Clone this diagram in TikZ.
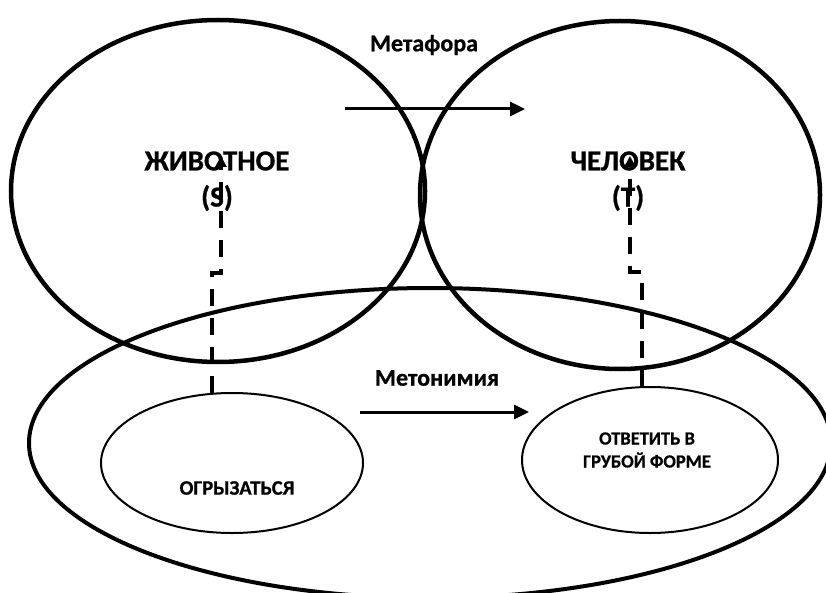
\documentclass[tikz,border=0pt]{standalone}
\usepackage{fontspec}
\setmainfont{Carlito}[BoldFont={Carlito Bold}, BoldFeatures={FakeBold=0.8}]
\usetikzlibrary{arrows.meta,shapes.geometric}
\begin{document}
\begin{tikzpicture}[x=1pt,y=-1pt,
  bigring/.style={draw, ellipse, line width=4.5pt, inner sep=0pt, outer sep=0pt},
  outerring/.style={draw, ellipse, line width=4pt, inner sep=0pt, outer sep=0pt},
  smallring/.style={draw, ellipse, line width=2pt, inner sep=0pt, outer sep=0pt},
  biglabel/.style={font=\bfseries\fontsize{29}{33}\selectfont, inner sep=0pt},
  arrowlabel/.style={font=\bfseries\fontsize{24}{28}\selectfont, inner sep=0pt},
  smalllabel/.style={font=\bfseries\fontsize{20.5}{24}\selectfont, inner sep=0pt},
  tinylabel/.style={font=\bfseries\fontsize{18.5}{23}\selectfont, inner sep=0pt, align=center},
  solidarrow/.style={line width=3pt, -{Triangle[length=15pt,width=14pt]}},
  dasharrow/.style={line width=3.3pt, dash pattern=on 17pt off 12pt,
    -{Triangle[length=11pt,width=11pt]}}
]
\useasboundingbox (0,0) rectangle (826,593);

% the two domains
\node[bigring, minimum width=414pt, minimum height=342pt] (animal) at (218,191) {};
\node[bigring, minimum width=400pt, minimum height=348pt] (human) at (620,195) {};

% the shared frame and its two situations
\node[outerring, minimum width=802pt, minimum height=310pt] (frame) at (430,443) {};
\node[smallring, minimum width=262pt, minimum height=140pt] (snap) at (232,463) {};
\node[smallring, minimum width=256pt, minimum height=146pt] (rude) at (650,460) {};

% labels
\node[arrowlabel] (metaphor) at (424,45) {Метафора};
\node[arrowlabel] (metonymy) at (437,378) {Метонимия};
\node[biglabel] (animaltext) at (217,161) {ЖИВОТНОЕ};
\node[biglabel] (animalsym) at (217,198) {(S)};
\node[biglabel] (humantext) at (628,161) {ЧЕЛОВЕК};
\node[biglabel] (humansym) at (628,198) {(Т)};
\node[smalllabel] (snaptext) at (237,488) {ОГРЫЗАТЬСЯ};
\node[tinylabel] (rudetext) at (647,450) {ОТВЕТИТЬ В\\ГРУБОЙ ФОРМЕ};

% end points of the connectors
\coordinate (mfA) at (345,109);
\coordinate (mfB) at (525,109);
\coordinate (mnA) at (360,412);
\coordinate (mnB) at (529,412);
\coordinate (ls) at (212,393);
\coordinate (lk1) at (212,273);
\coordinate (lk2) at (221,273);
\coordinate (lt) at (221,156);
\coordinate (rs) at (642,387);
\coordinate (rk1) at (642,272);
\coordinate (rk2) at (630,272);
\coordinate (rt) at (630,156);

% connectors
\draw[solidarrow] (mfA) -- (mfB);
\draw[solidarrow] (mnA) -- (mnB);
\draw[dasharrow] (ls) -- (lk1) -- (lk2) -- (lt);
\draw[dasharrow] (rs) -- (rk1) -- (rk2) -- (rt);
\end{tikzpicture}
\end{document}
